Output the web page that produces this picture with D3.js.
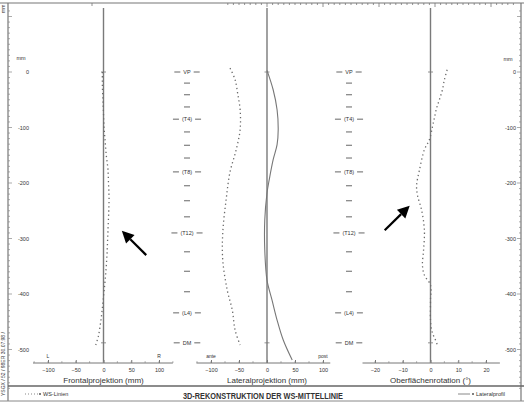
<!DOCTYPE html>
<html>
<head>
<meta charset="utf-8">
<script src="https://cdn.jsdelivr.net/npm/d3@7"></script>
<style>
  html, body { margin: 0; padding: 0; background: #fff; }
  svg { display: block; font-family: "Liberation Sans", Arial, sans-serif; }
  text { fill: #333; }
</style>
</head>
<body>
<svg id="chart" width="524" height="403"></svg>
<script>
// Vertebral levels (depth below VP in mm) and their labels
const levelDepth = [0, -20, -41, -63, -85, -108, -132, -155, -180, -205, -232, -261, -290, -324, -359, -396, -434, -488];
const levelLabel = ["VP", "", "", "", "(T4)", "", "", "", "(T8)", "", "", "", "(T12)", "", "", "", "(L4)", "DM"];

// Spine line, frontal projection (mm, + = right)
const frontalDepth  = [0, -25, -50, -75, -100, -125, -150, -175, -200, -225, -250, -275, -300, -325, -350, -375, -400, -425, -450, -475, -492];
const frontalOffset = [-2, -2, -1, 0, 1, 3, 5, 8, 9, 10, 9.5, 8.5, 7.5, 6.5, 5, 3, 0.5, -2, -5, -9, -14];

// Spine line, lateral projection (mm, + = posterior)
const lateralDepth  = [7, -14, -41, -68, -104, -140, -180, -230, -290, -339, -393, -429, -465, -492];
const lateralOffset = [-66, -57, -52, -48, -48, -55, -66, -73, -79, -79, -71, -62, -57, -48];

// Lateral profile of the back surface (mm)
const profileDepth  = [3, -32, -68, -104, -131, -158, -194, -218, -267, -320, -375, -411, -447, -483, -519];
const profileOffset = [0, 11, 18, 20, 18, 11, 4, 0, -4, -4, 0, 9, 18, 29, 45];

// Surface rotation (degrees)
const rotationDepth = [4, -14, -32, -50, -65, -83, -99, -122, -140, -177, -204, -222, -249, -285, -321, -348, -366, -384, -411, -447, -465, -474, -483, -492];
const rotationDeg   = [6, 5, 4.3, 3.2, 2.2, 1.4, 0.7, -0.4, -2.2, -4, -5, -4.7, -3.2, -2.2, -2.5, -2.9, -2.2, 0, 0, 0, 0.4, 1, 1.8, 2.5];

// Axis ticks
const depthTicks = [0, -100, -200, -300, -400, -500];
const mmTicks = [-100, -50, 0, 50, 100];
const degTicks = [-20, -10, 0, 10, 20];

const svg = d3.select("#chart");
const ink = "#444";
const lineGray = "#7a7a7a";

// Scales: same mm-per-pixel in depth and in both projections
const y  = d3.scaleLinear().domain([0, -500]).range([72, 349.5]);
const xF = d3.scaleLinear().domain([-100, 100]).range([48, 159]);
const xL = d3.scaleLinear().domain([-100, 100]).range([211, 323]);
const xR = d3.scaleLinear().domain([-20, 20]).range([375, 486]);

const axisY = 363;

// ---- frame: top ruler, side depth axes, bottom band ----
svg.append("line").attr("x1", 0).attr("x2", 524).attr("y1", 3).attr("y2", 3)
  .attr("stroke", "#777").attr("stroke-width", 1.2);
const rulerTicks = d3.range(-70, 450, 10);
svg.append("g").selectAll("line").data(rulerTicks).join("line")
  .attr("x1", d => xL(d)).attr("x2", d => xL(d))
  .attr("y1", 3).attr("y2", d => d % 100 === 0 ? 7 : 5)
  .attr("stroke", "#777").attr("stroke-width", 0.8);
svg.append("line").attr("x1", 92).attr("x2", 92).attr("y1", 3).attr("y2", 6)
  .attr("stroke", "#777").attr("stroke-width", 0.8);

// left and right depth axes
const sideTicks = d3.range(110, -571, -10);
[{x: 8, dir: 1}, {x: 521, dir: -1}].forEach(side => {
  svg.append("line").attr("x1", side.x).attr("x2", side.x).attr("y1", 3).attr("y2", 401)
    .attr("stroke", "#777").attr("stroke-width", 1.2);
  svg.append("g").selectAll("line").data(sideTicks).join("line")
    .attr("x1", side.x).attr("x2", d => side.x + side.dir * (d % 100 === 0 ? 4 : 2))
    .attr("y1", d => y(d)).attr("y2", d => y(d))
    .attr("stroke", "#888").attr("stroke-width", 0.7);
});
svg.append("g").selectAll("text").data(depthTicks).join("text")
  .attr("x", 29).attr("y", d => y(d) + 2).attr("text-anchor", "end")
  .attr("font-size", 5.5).text(d => d);
svg.append("g").selectAll("text").data(depthTicks).join("text")
  .attr("x", 516).attr("y", d => y(d) + 2).attr("text-anchor", "end")
  .attr("font-size", 5.5).text(d => d);
svg.append("text").attr("x", 21).attr("y", 60).attr("text-anchor", "middle").attr("font-size", 5.5).text("mm");
svg.append("text").attr("x", 508).attr("y", 61).attr("text-anchor", "middle").attr("font-size", 5.5).text("mm");
svg.append("text").attr("transform", "translate(5,13) rotate(-90)").attr("font-size", 5).text("mm");
svg.append("text").attr("transform", "translate(5,396) rotate(-90)").attr("font-size", 5)
  .attr("fill", "#555").text("YSGX / 52 / 98ER  30.07.98 /");

// bottom band
svg.append("line").attr("x1", 8).attr("x2", 524).attr("y1", 386).attr("y2", 386)
  .attr("stroke", "#666").attr("stroke-width", 1.5);
svg.append("line").attr("x1", 0).attr("x2", 524).attr("y1", 401).attr("y2", 401)
  .attr("stroke", "#888").attr("stroke-width", 1);
svg.append("text").attr("x", 263).attr("y", 399).attr("text-anchor", "middle")
  .attr("font-size", 8.5).attr("font-weight", "bold").attr("fill", "#222")
  .attr("textLength", 160).attr("lengthAdjust", "spacingAndGlyphs")
  .text("3D-REKONSTRUKTION DER WS-MITTELLINIE");

// legend
svg.append("line").attr("x1", 25).attr("x2", 38).attr("y1", 394).attr("y2", 394)
  .attr("stroke", "#888").attr("stroke-width", 1.2).attr("stroke-dasharray", "1,2");
svg.append("circle").attr("cx", 40).attr("cy", 394).attr("r", 1).attr("fill", "#555");
svg.append("text").attr("x", 43).attr("y", 396).attr("font-size", 5.5).text("WS-Linien");
svg.append("line").attr("x1", 458).attr("x2", 470).attr("y1", 394).attr("y2", 394)
  .attr("stroke", "#888").attr("stroke-width", 1);
svg.append("circle").attr("cx", 473).attr("cy", 394).attr("r", 1).attr("fill", "#555");
svg.append("text").attr("x", 476).attr("y", 396).attr("font-size", 5)
  .attr("textLength", 29).attr("lengthAdjust", "spacingAndGlyphs").text("Lateralprofil");

// ---- panels ----
const panels = [
  {x: xF, ext: [-127, 125], ticks: mmTicks, minor: d3.range(-125, 126, 25), left: "L", right: "R",
   title: "Frontalprojektion (mm)"},
  {x: xL, ext: [-126, 113], ticks: mmTicks, minor: d3.range(-125, 113, 25), left: "ante", right: "post",
   title: "Lateralprojektion (mm)"},
  {x: xR, ext: [-24.5, 25], ticks: degTicks, minor: d3.range(-20, 21, 5), left: "", right: "",
   title: "Oberflächenrotation (°)"}
];

panels.forEach(p => {
  const g = svg.append("g");
  // zero reference line
  g.append("line").attr("x1", p.x(0)).attr("x2", p.x(0)).attr("y1", 8).attr("y2", axisY)
    .attr("stroke", lineGray).attr("stroke-width", 1.4);
  // small level marks on the zero line (VP and DM)
  [levelDepth[0], levelDepth[levelDepth.length - 1]].forEach(d => {
    g.append("line").attr("x1", p.x(0) - 2.5).attr("x2", p.x(0) + 2.5)
      .attr("y1", y(d)).attr("y2", y(d)).attr("stroke", "#777").attr("stroke-width", 0.8);
  });
  // horizontal axis
  g.append("line").attr("x1", p.x(p.ext[0])).attr("x2", p.x(p.ext[1]))
    .attr("y1", axisY).attr("y2", axisY).attr("stroke", "#777").attr("stroke-width", 1);
  const ax = g.append("g").attr("transform", `translate(0,${axisY})`)
    .call(d3.axisBottom(p.x).tickValues(p.ticks).tickSize(-3).tickPadding(5));
  ax.select(".domain").remove();
  ax.selectAll("line").attr("stroke", "#777");
  ax.selectAll("text").attr("font-size", 5.5).attr("fill", "#444").attr("font-family", "Liberation Sans, Arial, sans-serif");
  g.append("g").selectAll("line").data(p.minor).join("line")
    .attr("x1", d => p.x(d)).attr("x2", d => p.x(d))
    .attr("y1", axisY).attr("y2", axisY - 1.8).attr("stroke", "#888").attr("stroke-width", 0.7);
  if (p.left) {
    g.append("text").attr("x", p.x(p.ticks[0])).attr("y", 358).attr("text-anchor", "middle")
      .attr("font-size", 5).text(p.left);
    g.append("text").attr("x", p.x(p.ticks[p.ticks.length - 1])).attr("y", 358).attr("text-anchor", "middle")
      .attr("font-size", 5).text(p.right);
  }
  g.append("text").attr("x", p.x(0)).attr("y", 383).attr("text-anchor", "middle")
    .attr("font-size", 8).attr("fill", "#333").text(p.title);
});

// ---- vertebra level columns ----
[187, 349].forEach(cx => {
  const col = svg.append("g");
  levelDepth.forEach((d, i) => {
    const lab = levelLabel[i];
    if (lab) {
      const t = col.append("text").attr("x", cx).attr("y", y(d) + 2).attr("text-anchor", "middle")
        .attr("font-size", 5.5).text(lab);
      const w = t.node().getComputedTextLength();
      [-1, 1].forEach(s => {
        col.append("line")
          .attr("x1", cx + s * (w / 2 + 3)).attr("x2", cx + s * (w / 2 + 9))
          .attr("y1", y(d)).attr("y2", y(d)).attr("stroke", "#555").attr("stroke-width", 0.9);
      });
    } else {
      col.append("line").attr("x1", cx - 3).attr("x2", cx + 3)
        .attr("y1", y(d)).attr("y2", y(d)).attr("stroke", "#555").attr("stroke-width", 0.9);
    }
  });
});

// ---- curves ----
function curve(xs, depths, vals, dotted) {
  const pts = depths.map((d, i) => [xs(vals[i]), y(d)]);
  svg.append("path").attr("d", d3.line().curve(d3.curveCatmullRom)(pts))
    .attr("fill", "none").attr("stroke", dotted ? "#6a6a6a" : "#777")
    .attr("stroke-width", dotted ? 1.3 : 1.1)
    .attr("stroke-dasharray", dotted ? "1.3,2.9" : null);
}
curve(xF, frontalDepth, frontalOffset, true);
curve(xL, lateralDepth, lateralOffset, true);
curve(xL, profileDepth, profileOffset, false);
curve(xR, rotationDepth, rotationDeg, true);

// ---- arrows pointing at the deviations ----
const arrows = [
  {xs: xF, tip: [33, -286], tail: [77, -330]},
  {xs: xR, tip: [-7.5, -241], tail: [-16.5, -285]}
];
arrows.forEach(a => {
  const x1 = a.xs(a.tail[0]), y1 = y(a.tail[1]);
  const x2 = a.xs(a.tip[0]), y2 = y(a.tip[1]);
  const ang = Math.atan2(y2 - y1, x2 - x1);
  const L = 12, Wd = 6;
  const bx = x2 - L * Math.cos(ang), by = y2 - L * Math.sin(ang);
  const nx = -Math.sin(ang), ny = Math.cos(ang);
  svg.append("line").attr("x1", x1).attr("y1", y1).attr("x2", bx).attr("y2", by)
    .attr("stroke", "#000").attr("stroke-width", 2.2);
  svg.append("path")
    .attr("d", `M${x2},${y2}L${bx + nx * Wd},${by + ny * Wd}L${bx - nx * Wd},${by - ny * Wd}Z`)
    .attr("fill", "#000");
});
</script>
</body>
</html>
